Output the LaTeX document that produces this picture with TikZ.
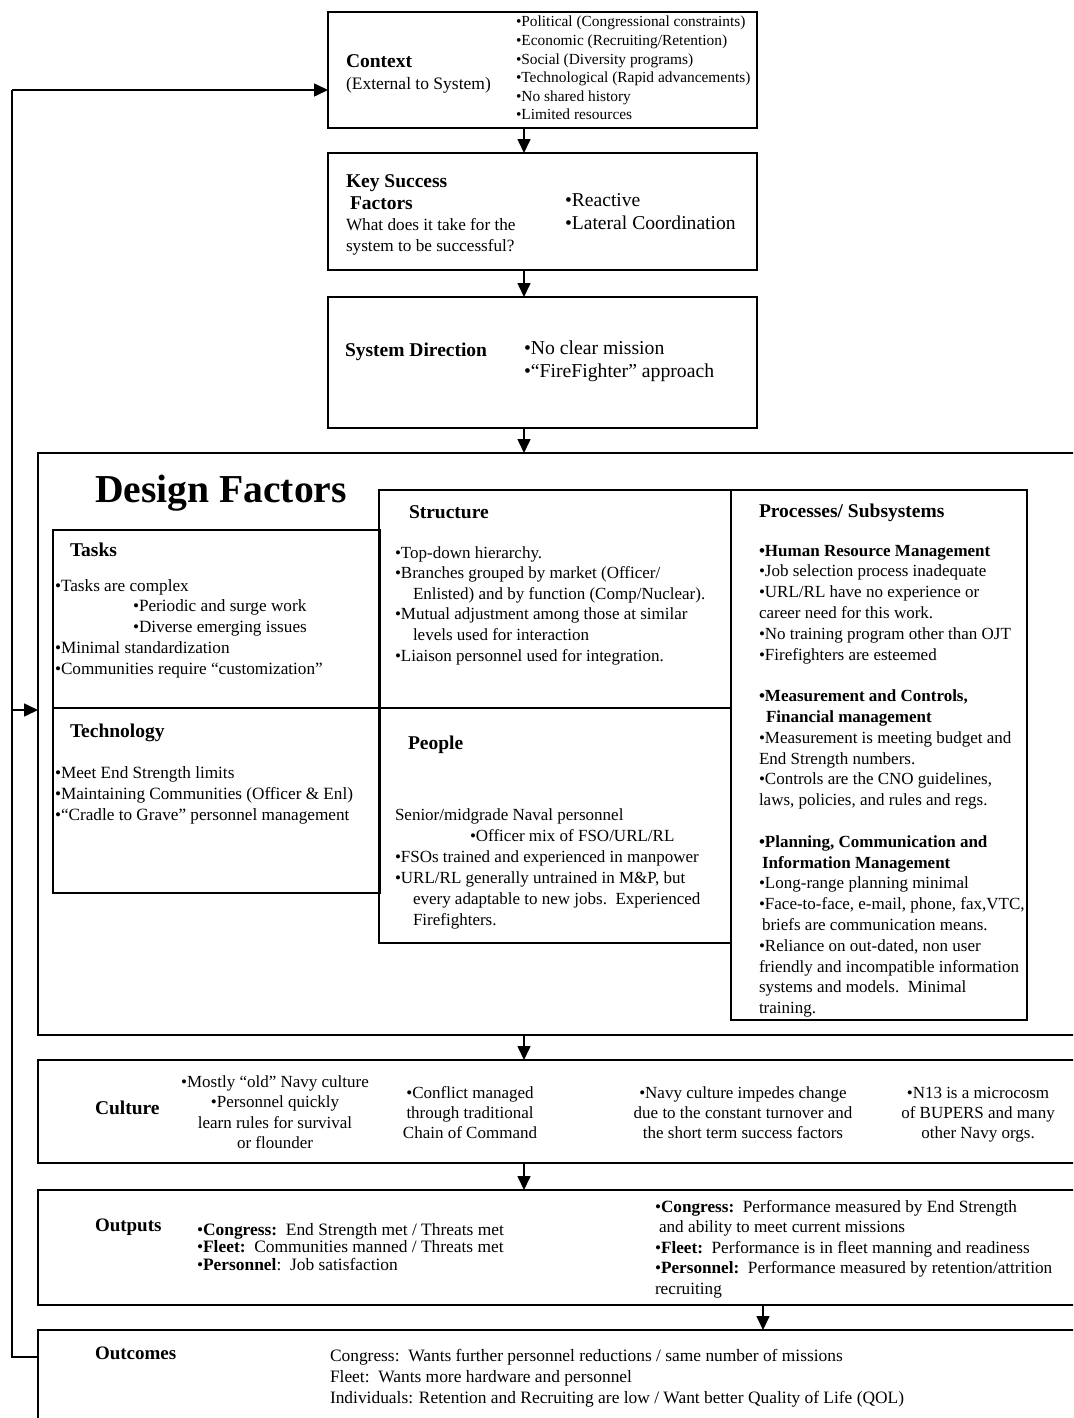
\documentclass[tikz,border=0pt]{standalone}
\usepackage{fontspec}
\setmainfont{Liberation Serif}
\usetikzlibrary{arrows.meta,calc}
\newcommand\fs[2]{\fontsize{#1}{#2}\selectfont}
\newcommand\blkl[1]{\begin{tabular}[t]{@{}l@{}}#1\end{tabular}}
\newcommand\blkc[1]{\begin{tabular}[t]{@{}c@{}}#1\end{tabular}}
\begin{document}
\begin{tikzpicture}[x=1pt,y=-1pt,
  box/.style={draw, line width=1.6pt, inner sep=0pt, outer sep=0pt, anchor=north west},
  txt/.style={inner sep=0pt, outer sep=0pt, anchor=base west},
  ctxt/.style={inner sep=0pt, outer sep=0pt, anchor=base},
  hd/.style={txt, font=\fs{19.5}{22}\bfseries},
  arr/.style={line width=1.6pt, -{Triangle[length=14pt,width=13pt]}},
  fb/.style={line width=1.4pt}]
\useasboundingbox (0,0) rectangle (1073,1418);
\clip (0,0) rectangle (1073,1418);
\fill[white] (0,0) rectangle (1073,1418);

% ---------- boxes ----------
\node[box, minimum width=429pt, minimum height=116pt] (ctx) at (328,12) {};
\node[box, minimum width=429pt, minimum height=117pt] (ksf) at (328,153) {};
\node[box, minimum width=429pt, minimum height=131pt] (sd)  at (328,297) {};
\node[box, minimum width=1045pt, minimum height=582pt] (df) at (38,453) {};
\node[box, minimum width=327pt, minimum height=178pt] (tasks) at (53,530) {};
\node[box, minimum width=327pt, minimum height=185pt] (tech)  at (53,708) {};
\node[box, minimum width=352pt, minimum height=218pt] (struct) at (379,490) {};
\node[box, minimum width=352pt, minimum height=235pt] (people) at (379,708) {};
\node[box, minimum width=296pt, minimum height=530pt] (proc) at (731,490) {};
\node[box, minimum width=1045pt, minimum height=103pt] (cult) at (38,1060) {};
\node[box, minimum width=1045pt, minimum height=115pt] (outp) at (38,1190) {};
\node[box, minimum width=1045pt, minimum height=100pt] (outc) at (38,1330) {};

% ---------- connectors ----------
\coordinate (ax) at (524,0);
\coordinate (lx) at (12,0);
\draw[arr] (ax |- ctx.south) -- (ax |- ksf.north);
\draw[arr] (ax |- ksf.south) -- (ax |- sd.north);
\draw[arr] (ax |- sd.south) -- (ax |- df.north);
\draw[arr] (ax |- df.south) -- (ax |- cult.north);
\draw[arr] (ax |- cult.south) -- (ax |- outp.north);
\coordinate (ox) at (763,0);
\draw[arr] (ox |- outp.south) -- (ox |- outc.north);
\coordinate (fbs) at ($(outc.north west)+(0,27)$);
\coordinate (ctxin) at ($(ctx.north west)+(0,78)$);
\coordinate (dfin) at ($(df.north west)+(0,257)$);
\draw[fb] (fbs) -- (lx |- fbs) -- (lx |- ctxin);
\draw[arr] (lx |- ctxin) -- (ctxin);
\draw[arr] (lx |- dfin) -- (dfin);

% ---------- Context ----------
\node[hd] (ctxh) at (346,68) {Context};
\node[txt, font=\fs{17.5}{20}] (ctxs) at (346,90) {(External to System)};
\node[txt, font=\fs{15.4}{18.6}] (ctxb) at (516,27) {\blkl{%
•Political (Congressional constraints)\\
•Economic (Recruiting/Retention)\\
•Social (Diversity programs)\\
•Technological (Rapid advancements)\\
•No shared history\\
•Limited resources}};

% ---------- Key Success Factors ----------
\node[hd] (ksfh) at (346,187) {\blkl{Key Success\\\hspace*{4pt}Factors}};
\node[txt, font=\fs{17.2}{21}] (ksfq) at (346,230) {\blkl{What does it take for the\\system to be successful?}};
\node[txt, font=\fs{19.6}{23}] (ksfb) at (565,206) {\blkl{•Reactive\\•Lateral Coordination}};

% ---------- System Direction ----------
\node[hd] (sdh) at (345,356) {System Direction};
\node[txt, font=\fs{19.7}{23}] (sdb) at (524,354) {\blkl{•No clear mission\\•“FireFighter” approach}};

% ---------- Design Factors ----------
\node[txt, font=\fs{39.6}{44}\bfseries] (dft) at (95,502) {Design Factors};

\node[hd] (tasksh) at (70,556) {Tasks};
\node[txt, font=\fs{17.2}{20.75}] (tasksb) at (55,591) {\blkl{%
•Tasks are complex\\
\hspace*{78pt}•Periodic and surge work\\
\hspace*{78pt}•Diverse emerging issues\\
•Minimal standardization\\
•Communities require “customization”}};

\node[hd] (structh) at (409,518) {Structure};
\node[txt, font=\fs{17}{20.6}] (structb) at (395,558) {\blkl{%
•Top-down hierarchy.\\
•Branches grouped by market (Officer/\\
\hspace*{18pt}Enlisted) and by function (Comp/Nuclear).\\
•Mutual adjustment among those at similar\\
\hspace*{18pt}levels used for interaction\\
•Liaison personnel used for integration.}};

\node[hd] (techh) at (70,737) {Technology};
\node[txt, font=\fs{17.2}{21}] (techb) at (55,778) {\blkl{%
•Meet End Strength limits\\
•Maintaining Communities (Officer \& Enl)\\
•“Cradle to Grave” personnel management}};

\node[hd] (peopleh) at (408,749) {People};
\node[txt, font=\fs{17}{21}] (peopleb) at (395,820) {\blkl{%
Senior/midgrade Naval personnel\\
\hspace*{75pt}•Officer mix of FSO/URL/RL\\
•FSOs trained and experienced in manpower\\
•URL/RL generally untrained in M\&P, but\\
\hspace*{18pt}every adaptable to new jobs.\ \ Experienced\\
\hspace*{18pt}Firefighters.}};

\node[hd] (proch) at (759,517) {Processes/ Subsystems};
\node[txt, font=\fs{17}{20.8}] (procb) at (759,556) {\blkl{%
\textbf{•Human Resource Management}\\
•Job selection process inadequate\\
•URL/RL have no experience or\\
career need for this work.\\
•No training program other than OJT\\
•Firefighters are esteemed\\
\\
\textbf{•Measurement and Controls,}\\
\hspace*{7pt}\textbf{Financial management}\\
•Measurement is meeting budget and\\
End Strength numbers.\\
•Controls are the CNO guidelines,\\
laws, policies, and rules and regs.\\
\\
\textbf{•Planning, Communication and}\\
\hspace*{3pt}\textbf{Information Management}\\
•Long-range planning minimal\\
•Face-to-face, e-mail, phone, fax,VTC,\\
\hspace*{3pt}briefs are communication means.\\
•Reliance on out-dated, non user\\
friendly and incompatible information\\
systems and models.\ \ Minimal\\
training.}};

% ---------- Culture ----------
\node[txt, font=\fs{19.5}{22}\bfseries] (culth) at (95,1114) {Culture};
\node[ctxt, font=\fs{17}{20.6}] (cult1) at (275,1087) {\blkc{%
•Mostly “old” Navy culture\\
•Personnel quickly\\
learn rules for survival\\
or flounder}};
\node[ctxt, font=\fs{17}{20.3}] (cult2) at (470,1098) {\blkc{%
•Conflict managed\\
through traditional\\
Chain of Command}};
\node[ctxt, font=\fs{17}{20.3}] (cult3) at (743,1098) {\blkc{%
•Navy culture impedes change\\
due to the constant turnover and\\
the short term success factors}};
\node[ctxt, font=\fs{17}{20.3}] (cult4) at (978,1098) {\blkc{%
•N13 is a microcosm\\
of BUPERS and many\\
other Navy orgs.}};

% ---------- Outputs ----------
\node[txt, font=\fs{19}{22}\bfseries] (outph) at (95,1231) {Outputs};
\node[txt, font=\fs{17.4}{17.5}] (outpl) at (197,1235) {\blkl{%
•\textbf{Congress:}\ \ End Strength met / Threats met\\
•\textbf{Fleet:}\ \ Communities manned / Threats met\\
•\textbf{Personnel}:\ \ Job satisfaction}};
\node[txt, font=\fs{17.2}{20.5}] (outpr) at (655,1212) {\blkl{%
•\textbf{Congress:}\ \ Performance measured by End Strength\\
\hspace*{4pt}and ability to meet current missions\\
•\textbf{Fleet:}\ \ Performance is in fleet manning and readiness\\
•\textbf{Personnel:}\ \ Performance measured by retention/attrition\\
recruiting}};

% ---------- Outcomes ----------
\node[txt, font=\fs{19}{22}\bfseries] (outch) at (95,1359) {Outcomes};
\node[txt, font=\fs{17.4}{21}] (outcb) at (330,1361) {\blkl{%
Congress:\ \ Wants further personnel reductions / same number of missions\\
Fleet:\ \ Wants more hardware and personnel\\
Individuals: Retention and Recruiting are low / Want better Quality of Life (QOL)}};
\end{tikzpicture}
\end{document}
